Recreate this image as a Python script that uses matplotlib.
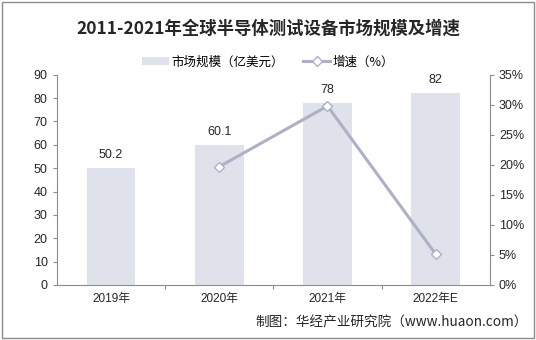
import matplotlib
matplotlib.use('Agg')
import matplotlib.pyplot as plt
from matplotlib.lines import Line2D
from matplotlib.patches import Patch
from matplotlib.ticker import FuncFormatter, MultipleLocator

plt.rcParams['font.family'] = ['Liberation Sans', 'Noto Sans CJK SC', 'DejaVu Sans']

years = ['2019年', '2020年', '2021年', '2022年E']
market = [50.2, 60.1, 78, 82]
growth = [None, 19.7, 29.8, 5.1]
bar_labels = ['50.2', '60.1', '78', '82']

bar_color = '#dfe2eb'
line_color = '#aeb1c6'
axis_color = '#8c8c8c'

fig = plt.figure(figsize=(5.36, 3.4), dpi=100)
ax = fig.add_axes([0.106, 0.162, 0.808, 0.618])

x = list(range(len(years)))
ax.bar(x, market, width=0.45, color=bar_color, zorder=1)
for xi, v, t in zip(x, market, bar_labels):
    ax.text(xi, v + 3, t, ha='center', va='bottom', fontsize=9, color='#262626')

ax.set_xlim(-0.5, len(years) - 0.5)
ax.set_ylim(0, 90)
ax.yaxis.set_major_locator(MultipleLocator(10))
ax.set_xticks([i + 0.5 for i in x[:-1]])
ax.set_xticklabels([])
ax.set_xticks(x, minor=True)
ax.set_xticklabels(years, minor=True)
ax.tick_params(axis='x', which='minor', length=0, labelsize=8.5, pad=6, colors='#262626')
ax.tick_params(axis='x', which='major', length=3, color=axis_color, direction='out')
ax.tick_params(axis='y', length=3, color=axis_color, labelsize=9, labelcolor='#262626')
for s in ['left', 'bottom']:
    ax.spines[s].set_color(axis_color)
ax.spines['top'].set_visible(False)
ax.spines['right'].set_visible(False)

ax2 = ax.twinx()
gx = [xi for xi, g in zip(x, growth) if g is not None]
gy = [g for g in growth if g is not None]
ax2.plot(gx, gy, color=line_color, lw=2.2, marker='D', markersize=5,
         markerfacecolor='white', markeredgecolor=line_color, markeredgewidth=1, zorder=3)
ax2.set_ylim(0, 35)
ax2.yaxis.set_major_locator(MultipleLocator(5))
ax2.yaxis.set_major_formatter(FuncFormatter(lambda v, p: f'{v:.0f}%'))
ax2.tick_params(axis='y', length=3, color=axis_color, labelsize=9, labelcolor='#262626')
ax2.spines['right'].set_color(axis_color)
ax2.spines['left'].set_visible(False)
ax2.spines['top'].set_visible(False)
ax2.spines['bottom'].set_visible(False)

fig.text(0.5, 0.915, '2011-2021年全球半导体测试设备市场规模及增速', ha='center', va='center',
         fontsize=12.5, fontweight='bold', family=['Noto Sans CJK SC'], color='#262626')

handles = [Patch(facecolor=bar_color, edgecolor='none'),
           Line2D([], [], color=line_color, lw=2.2, marker='D', markersize=5,
                  markerfacecolor='white', markeredgecolor=line_color)]
fig.legend(handles, ['市场规模（亿美元）', '增速（%）'], loc='center', bbox_to_anchor=(0.5, 0.818),
           ncol=2, frameon=False, handlelength=2.2, columnspacing=1.5,
           handletextpad=0.2, prop={'family': ['Noto Sans CJK SC'], 'size': 9})

fig.text(0.985, 0.05, '制图：华经产业研究院（www.huaon.com）', ha='right', va='center',
         fontsize=9.8, family=['Noto Sans CJK SC'], color='#262626')

fig.patches.append(plt.Rectangle((0.003, 0.005), 0.994, 0.99, transform=fig.transFigure,
                                 fill=False, edgecolor='#8c8c8c', lw=1))

fig.savefig('out.png', dpi=100)
